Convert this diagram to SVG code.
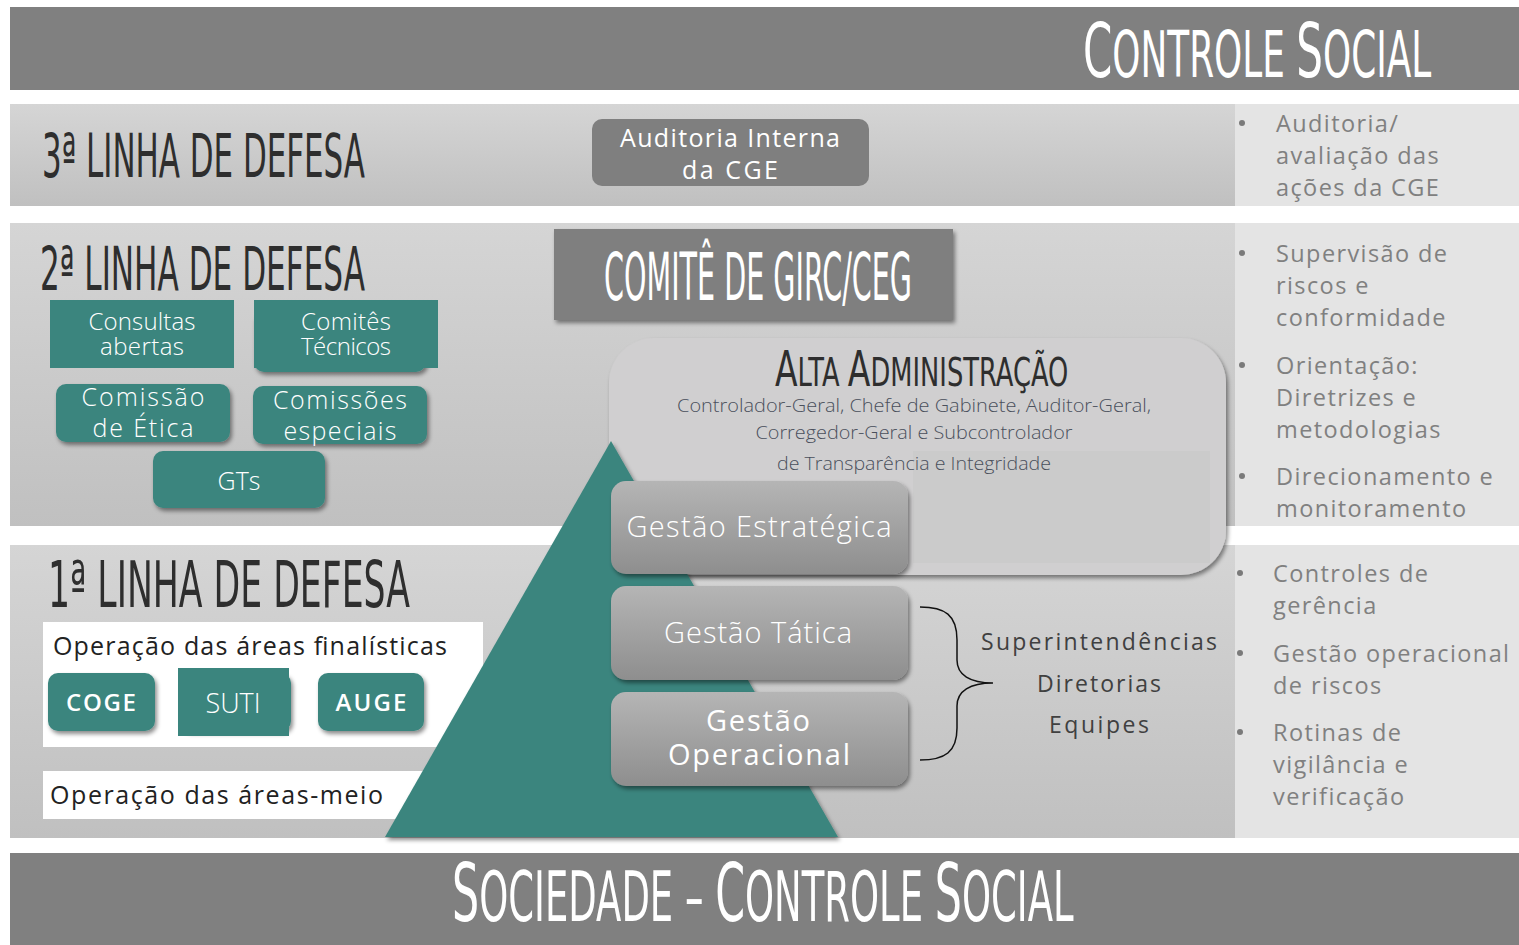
<svg xmlns="http://www.w3.org/2000/svg" width="1519" height="945" viewBox="0 0 1519 945">
<defs>
<linearGradient id="band" x1="0" y1="0" x2="0" y2="1"><stop offset="0" stop-color="#d5d5d5"/><stop offset="1" stop-color="#c0c0c0"/></linearGradient>
<linearGradient id="gbox" x1="0" y1="0" x2="0" y2="1"><stop offset="0" stop-color="#b5b5b5"/><stop offset="1" stop-color="#8e8e8e"/></linearGradient>
<filter id="sh" x="-10%" y="-10%" width="125%" height="135%"><feDropShadow dx="2" dy="3" stdDeviation="2" flood-color="#000" flood-opacity="0.45"/></filter>
<style>
.hand{font-family:"DejaVu Sans Condensed","Liberation Sans Narrow","DejaVu Sans",sans-serif;font-stretch:condensed}
.hand2{font-family:"DejaVu Sans",sans-serif}
.dark{fill:#2e2e2e}
.wh{fill:#ffffff}
.ui{font-family:"Open Sans","Noto Sans",sans-serif}
.lt{font-weight:300}
.teal{fill:#3b857e}
.side{font-family:"Open Sans","Noto Sans",sans-serif;font-size:23.5px;fill:#808080;letter-spacing:1.4px}
.bul{fill:#7a7a7a}
.panel{fill:#e4e4e4}
</style>
</defs>
<rect width="1519" height="945" fill="#ffffff"/>
<g id="bars">
<rect x="10" y="7" width="1509" height="83" fill="#808080"/>
<rect x="10" y="853" width="1509" height="92" fill="#808080"/>
<text class="hand2 wh" transform="translate(1083,77) scale(0.56,1)"><tspan font-size="75">C</tspan><tspan font-size="64">ONTROLE </tspan><tspan font-size="75">S</tspan><tspan font-size="64">OCIAL</tspan></text>
<text class="hand2 wh" transform="translate(452,921) scale(0.528,1)"><tspan font-size="81">S</tspan><tspan font-size="70">OCIEDADE – </tspan><tspan font-size="81">C</tspan><tspan font-size="70">ONTROLE </tspan><tspan font-size="81">S</tspan><tspan font-size="70">OCIAL</tspan></text>
</g>
<g id="bands">
<rect x="10" y="104" width="1225" height="102" fill="url(#band)"/>
<rect x="10" y="223" width="1225" height="303" fill="url(#band)"/>
<rect x="10" y="545" width="1225" height="293" fill="url(#band)"/>
<rect class="panel" x="1235" y="104" width="284" height="102"/>
<rect class="panel" x="1235" y="223" width="284" height="303"/>
<rect class="panel" x="1235" y="545" width="284" height="293"/>
</g>
<g id="line3">
<text class="hand dark" x="42" y="177" font-size="60" textLength="323" lengthAdjust="spacingAndGlyphs">3ª LINHA DE DEFESA</text>
</g>
<g id="auditoria">
<rect x="592" y="119" width="277" height="67" rx="10" fill="#7f7f7f"/>
<text class="ui wh" x="730" y="147" font-size="25" text-anchor="middle" textLength="220">Auditoria Interna</text>
<text class="ui wh" x="730" y="179" font-size="25" text-anchor="middle" textLength="96">da CGE</text>
</g>
<g id="line2">
<text class="hand dark" x="40" y="290" font-size="60" textLength="325" lengthAdjust="spacingAndGlyphs">2ª LINHA DE DEFESA</text>
</g>
<g id="consultas">
<rect class="teal" x="50" y="300" width="184" height="68"/>
<text class="ui lt wh" x="142" y="330" font-size="24" text-anchor="middle" textLength="107">Consultas</text>
<text class="ui lt wh" x="142" y="355" font-size="24" text-anchor="middle" textLength="84">abertas</text>
</g>
<g id="comites">
<rect class="teal" x="254" y="310" width="172" height="62" rx="10" filter="url(#sh)"/>
<rect class="teal" x="254" y="300" width="184" height="68"/>
<text class="ui lt wh" x="346" y="330" font-size="24" text-anchor="middle" textLength="90">Comitês</text>
<text class="ui lt wh" x="346" y="355" font-size="24" text-anchor="middle" textLength="90">Técnicos</text>
</g>
<g id="etica">
<rect class="teal" x="56" y="384" width="174" height="58" rx="10" filter="url(#sh)"/>
<text class="ui lt wh" x="143" y="406" font-size="25" text-anchor="middle" textLength="123">Comissão</text>
<text class="ui lt wh" x="143" y="437" font-size="25" text-anchor="middle" textLength="101">de Ética</text>
</g>
<g id="especiais">
<rect class="teal" x="253" y="386" width="174" height="58" rx="10" filter="url(#sh)"/>
<text class="ui lt wh" x="340" y="409" font-size="25" text-anchor="middle" textLength="134">Comissões</text>
<text class="ui lt wh" x="340" y="440" font-size="25" text-anchor="middle" textLength="113">especiais</text>
</g>
<g id="gts">
<rect class="teal" x="153" y="451" width="172" height="57" rx="10" filter="url(#sh)"/>
<text class="ui lt wh" x="239" y="490" font-size="25" text-anchor="middle">GTs</text>
</g>
<g id="comite-girc">
<rect x="554" y="229" width="399" height="91" fill="#7f7f7f" filter="url(#sh)"/>
<text class="hand wh" x="604" y="300" font-size="66" textLength="308" lengthAdjust="spacingAndGlyphs">COMITÊ DE GIRC/CEG</text>
</g>
<g id="line1">
<text class="hand dark" x="48" y="607" font-size="64" textLength="362" lengthAdjust="spacingAndGlyphs">1ª LINHA DE DEFESA</text>
</g>
<g id="finalisticas">
<rect x="43" y="622" width="440" height="125" fill="#ffffff"/>
<text class="ui" x="53" y="655" font-size="25" fill="#222" textLength="394">Operação das áreas finalísticas</text>
</g>
<g id="coge">
<rect class="teal" x="48" y="673" width="107" height="58" rx="10" filter="url(#sh)"/>
<text class="ui wh" x="101" y="711" font-size="24" font-weight="600" text-anchor="middle" textLength="70">COGE</text>
</g>
<g id="suti">
<rect class="teal" x="180" y="673" width="111" height="58" rx="10" filter="url(#sh)"/>
<rect class="teal" x="178" y="668" width="111" height="68"/>
<text class="ui lt wh" x="233" y="713" font-size="27" text-anchor="middle">SUTI</text>
</g>
<g id="auge">
<rect class="teal" x="318" y="673" width="106" height="58" rx="10" filter="url(#sh)"/>
<text class="ui wh" x="371" y="711" font-size="24" font-weight="600" text-anchor="middle" textLength="71">AUGE</text>
</g>
<g id="meio">
<rect x="43" y="771" width="400" height="48" fill="#ffffff"/>
<text class="ui" x="50" y="804" font-size="25" fill="#222" textLength="333">Operação das áreas-meio</text>
</g>
<g id="alta">
<rect x="609" y="338" width="617" height="237" rx="45" fill="#d0cfd0" filter="url(#sh)"/>
<rect x="913" y="451" width="297" height="112" fill="#cbcbcb"/>
<text class="hand2 dark" transform="translate(775,386) scale(0.66,1)"><tspan font-size="50">A</tspan><tspan font-size="39">LTA </tspan><tspan font-size="50">A</tspan><tspan font-size="39">DMINISTRAÇÃO</tspan></text>
<text class="ui lt" x="914" y="412" font-size="19" fill="#4a505c" text-anchor="middle" textLength="474" lengthAdjust="spacingAndGlyphs">Controlador-Geral, Chefe de Gabinete, Auditor-Geral,</text>
<text class="ui lt" x="914" y="439" font-size="19" fill="#4a505c" text-anchor="middle" textLength="317" lengthAdjust="spacingAndGlyphs">Corregedor-Geral e Subcontrolador</text>
<text class="ui lt" x="914" y="470" font-size="19" fill="#4a505c" text-anchor="middle" textLength="274" lengthAdjust="spacingAndGlyphs">de Transparência e Integridade</text>
</g>
<g id="piramide">
<polygon class="teal" points="611,441 838,837 385,837" filter="url(#sh)"/>
</g>
<g id="estrategica">
<rect x="611" y="481" width="297" height="93" rx="15" fill="url(#gbox)" filter="url(#sh)"/>
<text class="ui lt wh" x="759" y="537" font-size="29" text-anchor="middle" textLength="265">Gestão Estratégica</text>
</g>
<g id="tatica">
<rect x="611" y="586" width="297" height="94" rx="15" fill="url(#gbox)" filter="url(#sh)"/>
<text class="ui lt wh" x="758" y="643" font-size="29" text-anchor="middle" textLength="188">Gestão Tática</text>
</g>
<g id="operacional">
<rect x="611" y="692" width="297" height="94" rx="15" fill="url(#gbox)" filter="url(#sh)"/>
<text class="ui wh" x="758" y="731" font-size="29" text-anchor="middle" textLength="104">Gestão</text>
<text class="ui wh" x="759" y="765" font-size="29" text-anchor="middle" textLength="182">Operacional</text>
</g>
<g id="connectors">
<path d="M920,607 C945,607 957,615 957,640 L957,660 C957,675 970,683 993,683 C970,683 957,691 957,706 L957,728 C957,752 945,760 920,760" fill="none" stroke="#111" stroke-width="1.5"/>
</g>
<g id="niveis">
<text class="ui" x="1099" y="650" font-size="23" fill="#404040" text-anchor="middle" textLength="236">Superintendências</text>
<text class="ui" x="1099" y="692" font-size="23" fill="#404040" text-anchor="middle" textLength="124">Diretorias</text>
<text class="ui" x="1099" y="733" font-size="23" fill="#404040" text-anchor="middle" textLength="100">Equipes</text>
</g>
<g id="side3">
<circle class="bul" cx="1242" cy="123" r="3"/>
<text class="side" x="1276" y="132">Auditoria/</text>
<text class="side" x="1276" y="164">avaliação das</text>
<text class="side" x="1276" y="196">ações da CGE</text>
</g>
<g id="side2">
<circle class="bul" cx="1242" cy="253" r="3"/>
<text class="side" x="1276" y="262">Supervisão de</text>
<text class="side" x="1276" y="294">riscos e</text>
<text class="side" x="1276" y="326">conformidade</text>
<circle class="bul" cx="1242" cy="365" r="3"/>
<text class="side" x="1276" y="374">Orientação:</text>
<text class="side" x="1276" y="406">Diretrizes e</text>
<text class="side" x="1276" y="438">metodologias</text>
<circle class="bul" cx="1242" cy="476" r="3"/>
<text class="side" x="1276" y="485">Direcionamento e</text>
<text class="side" x="1276" y="517">monitoramento</text>
</g>
<g id="side1">
<circle class="bul" cx="1240" cy="573" r="3"/>
<text class="side" x="1273" y="582">Controles de</text>
<text class="side" x="1273" y="614">gerência</text>
<circle class="bul" cx="1240" cy="653" r="3"/>
<text class="side" x="1273" y="662">Gestão operacional</text>
<text class="side" x="1273" y="694">de riscos</text>
<circle class="bul" cx="1240" cy="732" r="3"/>
<text class="side" x="1273" y="741">Rotinas de</text>
<text class="side" x="1273" y="773">vigilância e</text>
<text class="side" x="1273" y="805">verificação</text>
</g>
</svg>
